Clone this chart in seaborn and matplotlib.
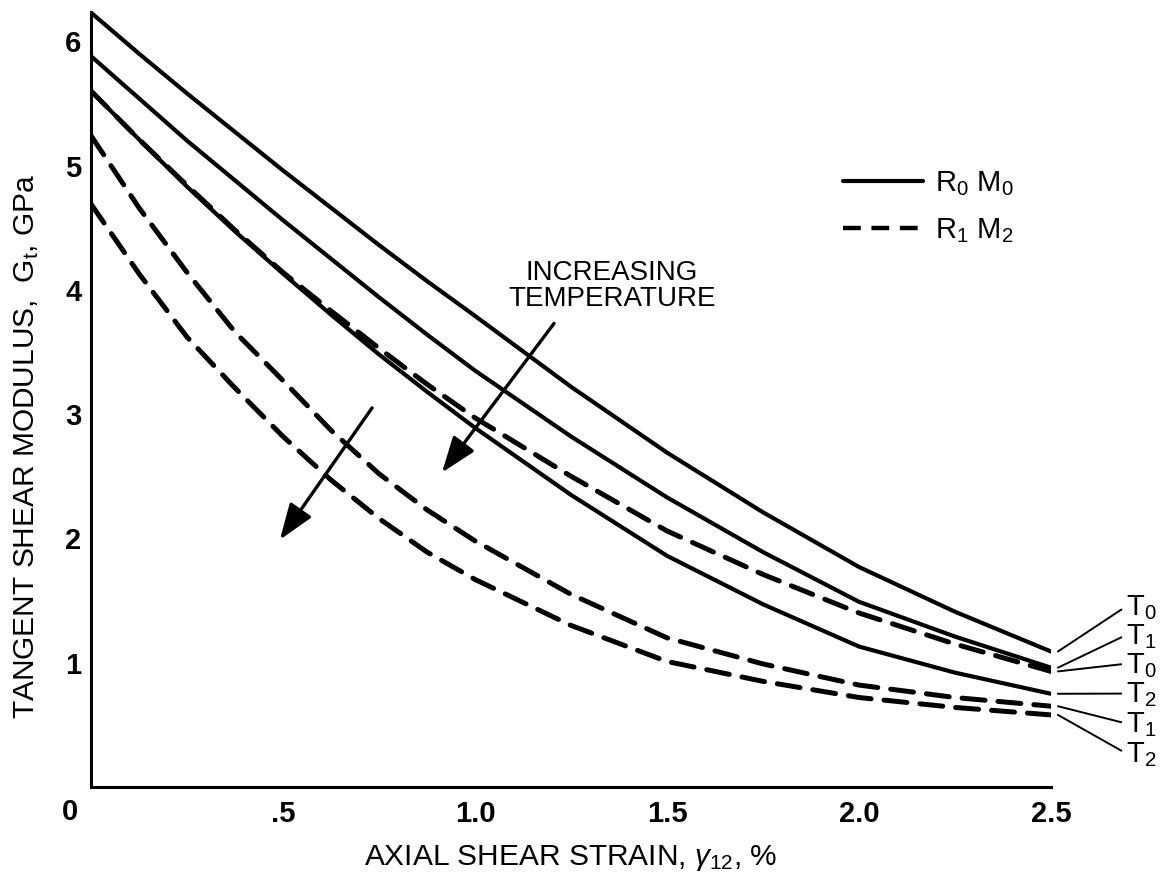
import matplotlib
matplotlib.use("Agg")
import matplotlib.pyplot as plt
import seaborn as sns
import numpy as np
import pandas as pd
from matplotlib.lines import Line2D

# ---- data ----
strain = [0.0, 0.125, 0.25, 0.375, 0.5, 0.625, 0.75, 0.875, 1.0,
          1.25, 1.5, 1.75, 2.0, 2.25, 2.5]
r0m0_T0 = [6.23, 5.90, 5.58, 5.27, 4.96, 4.66, 4.36, 4.07, 3.79,
           3.22, 2.69, 2.21, 1.77, 1.41, 1.09]
r0m0_T1 = [5.88, 5.54, 5.20, 4.88, 4.56, 4.25, 3.94, 3.64, 3.35,
           2.82, 2.33, 1.89, 1.49, 1.21, 0.96]
r0m0_T2 = [5.60, 5.21, 4.83, 4.47, 4.13, 3.80, 3.48, 3.18, 2.89,
           2.35, 1.86, 1.47, 1.13, 0.92, 0.75]
r1m2_T0 = [5.60, 5.21, 4.84, 4.48, 4.14, 3.83, 3.53, 3.24, 2.97,
           2.50, 2.06, 1.71, 1.40, 1.15, 0.93]
r1m2_T1 = [5.24, 4.66, 4.14, 3.66, 3.27, 2.87, 2.52, 2.23, 1.98,
           1.55, 1.20, 0.99, 0.82, 0.72, 0.65]
r1m2_T2 = [4.69, 4.13, 3.62, 3.21, 2.82, 2.47, 2.16, 1.89, 1.67,
           1.30, 1.01, 0.85, 0.72, 0.64, 0.58]

xticks = [0.5, 1.0, 1.5, 2.0, 2.5]
xticklabels = [".5", "1.0", "1.5", "2.0", "2.5"]
yticks = [1, 2, 3, 4, 5, 6]
yticklabels = ["1", "2", "3", "4", "5", "6"]

series = [
    ("R0M0", "T$_0$", r0m0_T0),
    ("R0M0", "T$_1$", r0m0_T1),
    ("R0M0", "T$_2$", r0m0_T2),
    ("R1M2", "T$_0$", r1m2_T0),
    ("R1M2", "T$_1$", r1m2_T1),
    ("R1M2", "T$_2$", r1m2_T2),
]

sns.set_style("white")
plt.rcParams["font.family"] = ["Liberation Sans", "DejaVu Sans"]
plt.rcParams["mathtext.fontset"] = "custom"
plt.rcParams["mathtext.rm"] = "Liberation Sans"
plt.rcParams["mathtext.it"] = "Liberation Sans:italic"
plt.rcParams["mathtext.bf"] = "Liberation Sans:bold"
plt.rcParams["text.color"] = "black"
plt.rcParams["axes.labelcolor"] = "black"
plt.rcParams["xtick.color"] = "black"
plt.rcParams["ytick.color"] = "black"

fig = plt.figure(figsize=(11.68, 8.8), dpi=100)
ax = fig.add_axes([91 / 1168, 93 / 880, 960 / 1168, 775 / 880])

dash_style = (0, (4.6, 2.6))
for mat, tl, vals in series:
    if mat == "R0M0":
        sns.lineplot(x=strain, y=vals, ax=ax, color="black", lw=3.0,
                     linestyle="-", solid_capstyle="round",
                     solid_joinstyle="round")
    else:
        sns.lineplot(x=strain, y=vals, ax=ax, color="black", lw=3.6,
                     linestyle=dash_style, dash_capstyle="round",
                     dash_joinstyle="round")

ax.set_xlim(0, 2.5)
ax.set_ylim(0, 6.235)

for s in ["top", "right"]:
    ax.spines[s].set_visible(False)
for s in ["left", "bottom"]:
    ax.spines[s].set_linewidth(2.2)
    ax.spines[s].set_color("black")

ax.set_xticks(xticks)
ax.set_xticklabels(xticklabels)
ax.set_yticks(yticks)
ax.set_yticklabels(yticklabels)
ax.tick_params(axis="both", direction="in", length=16, width=1.4, color="black",
               labelsize=21, labelcolor="black")
ax.tick_params(axis="x", pad=9)
ax.tick_params(axis="y", pad=7)
for lab in ax.get_xticklabels() + ax.get_yticklabels():
    lab.set_fontweight("bold")

# corner "0"
ax.annotate("0", xy=(0, 0), xytext=(-15, -18), textcoords="offset points",
            ha="center", va="center", fontsize=21, fontweight="bold",
            color="black", annotation_clip=False)

ax.set_xlabel(r"AXIAL SHEAR STRAIN, $\gamma_{\mathrm{12}}$, %", fontsize=21.5,
              color="black")
ax.xaxis.set_label_coords(0.5, -0.072)
ax.set_ylabel(r"TANGENT SHEAR MODULUS,  G$_\mathrm{t}$, GPa", fontsize=21.5,
              color="black")
ax.yaxis.set_label_coords(-0.052, 0.44)

# legend
handles = [
    Line2D([], [], color="black", lw=3.0, linestyle="-"),
    Line2D([], [], color="black", lw=3.2, linestyle=(0, (4.0, 2.4))),
]
leg = ax.legend(handles, ["R$_0$ M$_0$", "R$_1$ M$_2$"], loc="upper left",
                bbox_to_anchor=(843 / 1168, 1 - 169 / 880),
                bbox_transform=fig.transFigure, frameon=False, fontsize=21,
                handlelength=2.75, handletextpad=0.4, labelspacing=0.62,
                borderpad=0, borderaxespad=0, labelcolor="black")

# increasing temperature annotations
ax.text(1.357, 4.03, "INCREASING\nTEMPERATURE", ha="center", va="center",
        fontsize=20, linespacing=1.0, color="black")
arrow_kw = dict(arrowstyle="-|>,head_length=1.1,head_width=0.4", lw=2.4,
                color="black", shrinkA=0, shrinkB=0, mutation_scale=20)
ax.annotate("", xy=(0.914, 2.53), xytext=(1.206, 3.73), arrowprops=arrow_kw)
ax.annotate("", xy=(0.492, 1.99), xytext=(0.732, 3.05), arrowprops=arrow_kw)

# end labels
label_y = {0: 1.44, 1: 1.21, 3: 0.98, 2: 0.74, 4: 0.50, 5: 0.26}
for i, (mat, tl, vals) in enumerate(series):
    ax.annotate(tl, xy=(2.518, vals[-1]), xytext=(2.695, label_y[i]),
                ha="left", va="center", fontsize=21, color="black",
                annotation_clip=False,
                arrowprops=dict(arrowstyle="-", lw=1.4, color="black",
                                shrinkA=1, shrinkB=0, relpos=(0, 0.55)))

fig.savefig("out.png", dpi=100)
